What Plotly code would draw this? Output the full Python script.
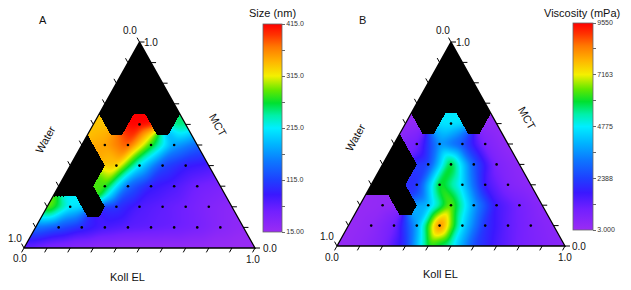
import numpy as np
import plotly.graph_objects as go

# ---------------------------------------------------------------- data
# Compositions on a 0.1 lattice.  Row r -> MCT fraction MCT_LEVELS[r],
# entry c -> Koll EL fraction KOLL_LEVELS[c]; Water = 1 - MCT - Koll EL.
# None = phase-separated composition (drawn black).
MCT_LEVELS = [0.0, 0.1, 0.2, 0.3, 0.4, 0.5, 0.6, 0.7, 0.8, 0.9, 1.0]
KOLL_LEVELS = [0.0, 0.1, 0.2, 0.3, 0.4, 0.5, 0.6, 0.7, 0.8, 0.9, 1.0]

size_mct00 = [60, 40, 30, 25, 22, 20, 20, 20, 18, 16, 15]
size_mct01 = [150, 125, 100, 80, 70, 65, 60, 50, 35, 25]
size_mct02 = [300, 215, None, 105, 75, 65, 55, 40, 30]
size_mct03 = [None, None, 280, 140, 90, 75, 55, 45]
size_mct04 = [None, None, 335, 210, 120, 90, 80]
size_mct05 = [None, 350, 385, 275, 175, 140]
size_mct06 = [335, None, 415, None, 250]
size_mct07 = [None, None, None, None]
size_mct08 = [None, None, None]
size_mct09 = [None, None]
size_mct10 = [None]
SIZE_ROWS = [size_mct00, size_mct01, size_mct02, size_mct03, size_mct04, size_mct05,
             size_mct06, size_mct07, size_mct08, size_mct09, size_mct10]

visc_mct00 = [100, 300, 700, 2200, 6000, 5000, 2500, 1500, 900, 600, 400]
visc_mct01 = [100, 300, 900, 3800, 8700, 4600, 2100, 1200, 700, 400]
visc_mct02 = [100, 200, None, 4000, 6600, 3800, 1600, 900, 400]
visc_mct03 = [None, None, 2100, 6200, 4500, 1600, 600, 300]
visc_mct04 = [None, None, 2400, 6200, 2800, 700, 300]
visc_mct05 = [None, 900, 3600, 2600, 700, 200]
visc_mct06 = [200, None, 4700, None, 200]
visc_mct07 = [None, None, None, None]
visc_mct08 = [None, None, None]
visc_mct09 = [None, None]
visc_mct10 = [None]
VISC_ROWS = [visc_mct00, visc_mct01, visc_mct02, visc_mct03, visc_mct04, visc_mct05,
             visc_mct06, visc_mct07, visc_mct08, visc_mct09, visc_mct10]

TICK_FRACTIONS = [0.0, 0.1, 0.2, 0.3, 0.4, 0.5, 0.6, 0.7, 0.8, 0.9, 1.0]

SIZE_TICKVALS = [15, 65, 115, 165, 215, 265, 315, 365, 415]
SIZE_TICKTEXT = ["15.00", "", "115.0", "", "215.0", "", "315.0", "", "415.0"]
VISC_TICKVALS = [3, 1196, 2388, 3582, 4775, 5969, 7163, 8356, 9550]
VISC_TICKTEXT = ["3.000", "", "2388", "", "4775", "", "7163", "", "9550"]

RAINBOW = [
    [0.00, "#9a2cf3"], [0.10, "#7220ff"], [0.18, "#3a18ff"], [0.25, "#1e40ff"],
    [0.34, "#0c78ff"], [0.42, "#00b4ff"], [0.50, "#00eeff"], [0.56, "#00f0a8"],
    [0.62, "#00e030"], [0.68, "#60e800"], [0.75, "#f4f000"], [0.82, "#ffb400"],
    [0.89, "#ff7800"], [0.95, "#ff3000"], [1.00, "#ff0000"],
]

W, H = 631, 290
FONT = "Liberation Sans, Arial, sans-serif"


def lattice(rows):
    val = np.full((11, 11), np.nan)
    for j, row in enumerate(rows):
        for i, v in enumerate(row):
            if v is not None:
                val[i, j] = v
    return val


def blur_masked(Z, mask, sigma):
    r = int(3 * sigma)
    t = np.arange(-r, r + 1)
    ker = np.exp(-0.5 * (t / sigma) ** 2)
    ker /= ker.sum()

    def conv(a):
        a = np.apply_along_axis(lambda row: np.convolve(row, ker, mode="same"), 1, a)
        a = np.apply_along_axis(lambda col: np.convolve(col, ker, mode="same"), 0, a)
        return a

    num = conv(np.where(mask, Z, 0.0))
    den = conv(mask.astype(float))
    return np.where(mask, num / np.maximum(den, 1e-9), np.nan)


def field(rows, nx, ny):
    val = lattice(rows)
    avail = (~np.isnan(val)).astype(float)
    vz = np.nan_to_num(val)
    X = (np.arange(nx) + 0.5) / nx
    Y = (np.arange(ny) + 0.5) / ny
    XX, YY = np.meshgrid(X, Y)
    M = YY
    K = XX - YY / 2
    inside = (K >= 0) & (K + M <= 1)
    u = np.clip(K * 10, 0, 10)
    v = np.clip(M * 10, 0, 10)
    i0 = np.clip(np.floor(u).astype(int), 0, 9)
    j0 = np.clip(np.floor(v).astype(int), 0, 9)
    fu = u - i0
    fv = v - j0
    lower = (fu + fv) <= 1
    ia = np.where(lower, i0, i0 + 1)
    ja = np.where(lower, j0, j0 + 1)
    wa = np.where(lower, 1 - fu - fv, fu + fv - 1)
    ib, jb = i0 + 1, j0
    wb = np.where(lower, fu, 1 - fv)
    ic, jc = i0, j0 + 1
    wc = np.where(lower, fv, 1 - fu)
    ia = np.clip(ia, 0, 10); ja = np.clip(ja, 0, 10)
    ib = np.clip(ib, 0, 10); jc = np.clip(jc, 0, 10)
    mk = wa * avail[ia, ja] + wb * avail[ib, jb] + wc * avail[ic, jc]
    num = wa * avail[ia, ja] * vz[ia, ja] + wb * avail[ib, jb] * vz[ib, jb] + wc * avail[ic, jc] * vz[ic, jc]
    colored = inside & (mk >= 0.5)
    black = inside & (mk < 0.5)
    Z = np.where(colored, num / np.maximum(mk, 1e-9), np.nan)
    Z = blur_masked(Z, colored, 3.0)
    return X, Y, Z, black


def to_list(a, nd=1):
    return [[None if np.isnan(x) else round(float(x), nd) for x in row] for row in a]


panels = [
    dict(rows=SIZE_ROWS, bl=(24, 248), br=(255, 248), top=42, dom=(0, 320), ax="", zmin=15, zmax=415,
         tickvals=SIZE_TICKVALS, ticktext=SIZE_TICKTEXT, cb=(263, 19, 24, 232), letter="A",
         letter_px=(43, 20), cbtitle="Size (nm)", cbt_px=(272, 13),
         water_px=(45, 140), mct_px=(218, 125), koll_px=(127, 277),
         lab=dict(top0=(-10, 12), top1=(11, 0), bl1=(-9, 10), bl0=(-4, -10), br1=(-2, -11), br0=(15, 0))),
    dict(rows=VISC_ROWS, bl=(337, 246), br=(565, 246), top=42, dom=(320, 631), ax="2", zmin=3, zmax=9550,
         tickvals=VISC_TICKVALS, ticktext=VISC_TICKTEXT, cb=(573, 20, 23, 230), letter="B",
         letter_px=(362, 20), cbtitle="Viscosity (mPa)", cbt_px=(582, 13),
         water_px=(355, 138), mct_px=(527, 118), koll_px=(440, 274),
         lab=dict(top0=(-8, 12), top1=(12, 0), bl1=(-10, 10), bl0=(-5, -11), br1=(0, -11), br0=(14, 0))),
]

fig = go.Figure()
annotations = []
layout_axes = {}

for p in panels:
    blx, by = p["bl"]
    brx, _ = p["br"]
    sx = brx - blx
    sy = by - p["top"]
    nx, ny = sx, sy
    d0, d1 = p["dom"]
    xr = [(d0 - blx) / sx, (d1 - blx) / sx]
    yr = [(by - H) / sy, by / sy]
    xa, ya = "x" + p["ax"], "y" + p["ax"]
    layout_axes["xaxis" + p["ax"]] = dict(domain=[d0 / W, d1 / W], range=xr, visible=False,
                                          fixedrange=True, anchor=ya)
    layout_axes["yaxis" + p["ax"]] = dict(domain=[0, 1], range=yr, visible=False,
                                          fixedrange=True, anchor=xa)

    def txy(k, m):
        return k + m / 2.0, m

    X, Y, Z, black = field(p["rows"], nx, ny)
    cbx, cbw, cbt, cbb = p["cb"]
    fig.add_trace(go.Heatmap(
        x=X.tolist(), y=Y.tolist(), z=to_list(Z), xaxis=xa, yaxis=ya,
        colorscale=RAINBOW, zmin=p["zmin"], zmax=p["zmax"], hoverinfo="skip",
        colorbar=dict(x=cbx / W, xanchor="left", thickness=cbw, thicknessmode="pixels",
                      len=cbb - cbt, lenmode="pixels", y=1 - (cbt + cbb) / 2 / H, yanchor="middle",
                      ypad=0, xpad=0, outlinewidth=0.8, outlinecolor="#666",
                      tickvals=p["tickvals"], ticktext=p["ticktext"], ticks="outside",
                      ticklen=3, tickwidth=0.8, tickcolor="#666",
                      tickfont=dict(family=FONT, size=7, color="#333")),
    ))
    fig.add_trace(go.Heatmap(
        x=X.tolist(), y=Y.tolist(), z=to_list(np.where(black, 1.0, np.nan), 0),
        xaxis=xa, yaxis=ya, colorscale=[[0, "#000000"], [1, "#000000"]],
        showscale=False, hoverinfo="skip", zmin=0, zmax=1,
    ))

    # data points (interior compositions that were measured)
    dx, dy = [], []
    for j, row in enumerate(p["rows"]):
        for i, v in enumerate(row):
            k, m = KOLL_LEVELS[i], MCT_LEVELS[j]
            if v is not None and k > 0 and m > 0 and k + m < 1 - 1e-9:
                X0, Y0 = txy(k, m)
                dx.append(X0); dy.append(Y0)
    fig.add_trace(go.Scatter(x=dx, y=dy, xaxis=xa, yaxis=ya, mode="markers",
                             marker=dict(size=2.6, color="#000"), hoverinfo="skip"))

    # triangle frame
    vx, vy = zip(*[txy(0, 0), txy(1, 0), txy(0, 1), txy(0, 0)])
    fig.add_trace(go.Scatter(x=list(vx), y=list(vy), xaxis=xa, yaxis=ya, mode="lines",
                             line=dict(color="#000", width=1.3), hoverinfo="skip"))

    # ticks (5 px) : bottom -> down-left, right -> right, left -> up-left
    def pix_dir(dpx, dpy, L=5.0):
        n = np.hypot(dpx, dpy)
        return dpx / n * L / sx, -dpy / n * L / sy

    topx = (blx + brx) / 2
    b_dir = pix_dir(blx - topx, by - p["top"])
    r_dir = pix_dir(1, 0)
    l_dir = pix_dir(topx - brx, p["top"] - by)
    tx, ty = [], []
    for t in TICK_FRACTIONS:
        for (k, m), dd in (((t, 0), b_dir), ((1 - t, t), r_dir), ((0, t), l_dir)):
            X0, Y0 = txy(k, m)
            tx += [X0, X0 + dd[0], None]
            ty += [Y0, Y0 + dd[1], None]
    fig.add_trace(go.Scatter(x=tx, y=ty, xaxis=xa, yaxis=ya, mode="lines",
                             line=dict(color="#000", width=1), hoverinfo="skip"))

    lab = p["lab"]
    tick_labels = [("0.0", txy(0, 1), lab["top0"]), ("1.0", txy(0, 1), lab["top1"]),
                   ("1.0", txy(0, 0), lab["bl1"]), ("0.0", txy(0, 0), lab["bl0"]),
                   ("1.0", txy(1, 0), lab["br1"]), ("0.0", txy(1, 0), lab["br0"])]
    for text, (X0, Y0), (xs, ys) in tick_labels:
        annotations.append(dict(text=text, x=X0, y=Y0, xref=xa, yref=ya, xshift=xs, yshift=ys,
                                showarrow=False, xanchor="center", yanchor="middle",
                                font=dict(family=FONT, size=10, color="#111")))

    def pa(px, py, text, size=11, angle=0):
        annotations.append(dict(text=text, x=px / W, y=1 - py / H, xref="paper", yref="paper",
                                showarrow=False, xanchor="center", yanchor="middle",
                                textangle=angle, font=dict(family=FONT, size=size, color="#111")))

    edge_ang = float(np.degrees(np.arctan2(sy, sx / 2)))
    pa(*p["letter_px"], p["letter"], 11)
    pa(*p["cbt_px"], p["cbtitle"], 11)
    pa(*p["water_px"], "Water", 11, -edge_ang)
    pa(*p["mct_px"], "MCT", 11, edge_ang)
    pa(*p["koll_px"], "Koll EL", 11)

fig.update_layout(
    width=W, height=H, margin=dict(l=0, r=0, t=0, b=0),
    paper_bgcolor="white", plot_bgcolor="rgba(0,0,0,0)", showlegend=False,
    annotations=annotations, **layout_axes,
)
fig.write_html("out.html")
